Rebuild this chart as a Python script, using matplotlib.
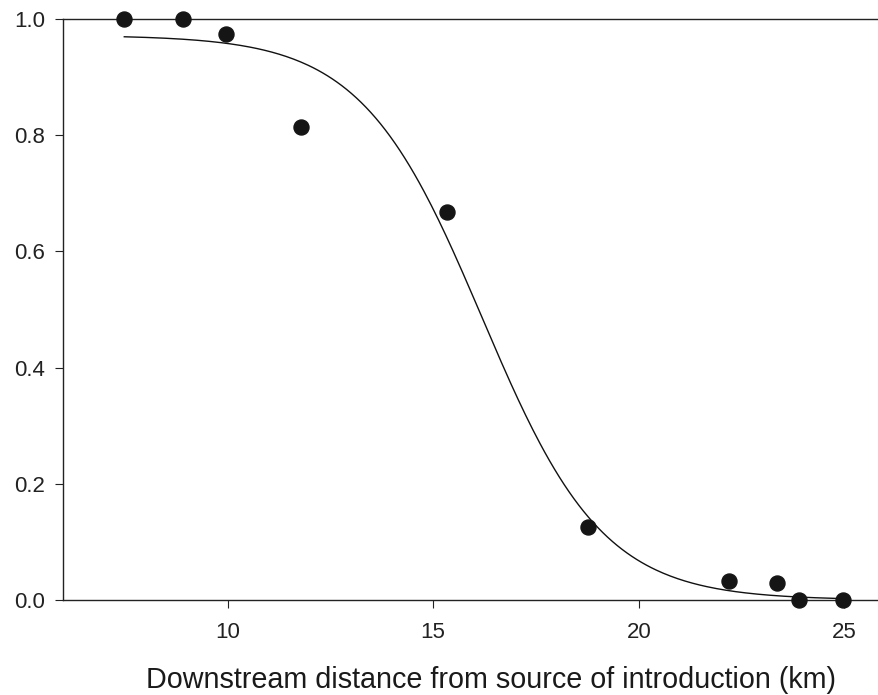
import numpy as np
import matplotlib
matplotlib.use("Agg")
import matplotlib.pyplot as plt

plt.rcParams['font.family'] = ['Liberation Sans', 'DejaVu Sans']

distance_km = [7.49, 8.91, 9.97, 11.79, 15.34, 18.77, 22.19, 23.37, 23.89, 24.96]
proportion = [1.0, 1.0, 0.975, 0.814, 0.668, 0.125, 0.033, 0.030, 0.0, 0.0]

# Fitted 3-parameter sigmoid: y = a / (1 + exp((x - x0) * b))
fit_a = 0.972
fit_b = 0.681
fit_x0 = 16.19

x_ticks = [10, 15, 20, 25]
y_ticks = [0.0, 0.2, 0.4, 0.6, 0.8, 1.0]

fig = plt.figure(figsize=(8.79, 6.95), dpi=100)
ax = fig.add_axes([63 / 879, 95 / 695, 1 - 63 / 879, 581 / 695])

xs = np.array(distance_km)
xc = np.linspace(xs.min(), xs.max() + 0.1, 300)
yc = fit_a / (1 + np.exp((xc - fit_x0) * fit_b))
ax.plot(xc, yc, color='#111111', lw=1.0)

ax.plot(distance_km, proportion, 'o', color='#151515', markersize=10.8,
        clip_on=False, zorder=3)

ax.set_xlim(6.0, 25.84)
ax.set_ylim(0.0, 1.0)
ax.set_xticks(x_ticks)
ax.set_xticklabels([str(t) for t in x_ticks])
ax.set_yticks(y_ticks)
ax.set_yticklabels([f"{t:.1f}" for t in y_ticks])

ax.spines['right'].set_visible(False)
for s in ['left', 'bottom', 'top']:
    ax.spines[s].set_linewidth(1.0)
    ax.spines[s].set_color('#222222')

ax.tick_params(axis='both', direction='out', length=6, width=0.8,
               colors='#222222', labelsize=16)
ax.tick_params(axis='x', pad=10)
ax.tick_params(axis='y', pad=7)
ax.tick_params(top=False, right=False)

ax.set_xlabel('Downstream distance from source of introduction (km)',
              fontsize=20.7, color='#1a1a1a', va='center')
ax.xaxis.set_label_coords(0.5245, -0.137)

fig.savefig('out.png', dpi=100)
